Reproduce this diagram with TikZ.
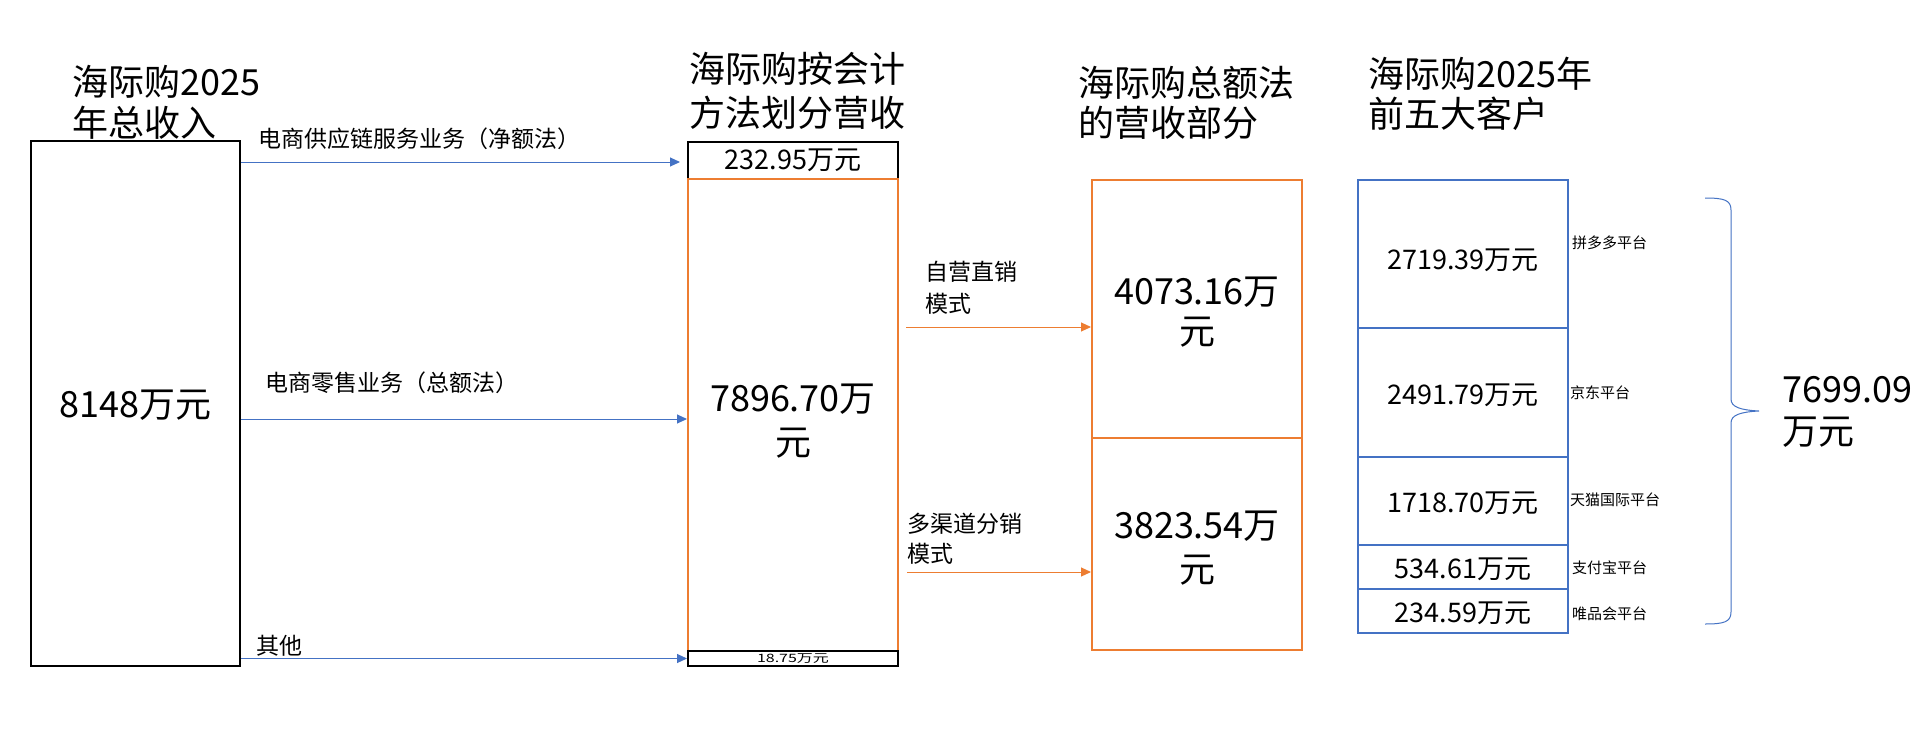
\documentclass[tikz,border=0pt]{standalone}
\usepackage{fontspec}
\setmainfont{Noto Sans CJK SC}
\usetikzlibrary{arrows.meta,calc}
\definecolor{bl}{RGB}{68,114,196}
\definecolor{og}{RGB}{237,125,49}
\tikzset{
  ttl/.style={font=\fontsize{36}{41}\selectfont, align=left, anchor=west, inner sep=0pt},
  bigv/.style={font=\fontsize{36}{44}\selectfont, align=center},
  lbl/.style={font=\fontsize{23}{31}\selectfont, align=left, anchor=west, inner sep=0pt},
  sml/.style={font=\fontsize{15}{18}\selectfont, anchor=west, inner sep=0pt},
  val/.style={font=\fontsize{27}{30}\selectfont},
  bx/.style={draw, inner sep=0pt, minimum width=210pt, line width=2pt},
  barrow/.style={draw=bl, line width=1pt, -{Triangle[length=10pt,width=9pt]}},
  oarrow/.style={draw=og, line width=1pt, -{Triangle[length=10pt,width=9pt]}},
  brc/.style={draw=bl, line width=1pt}
}
\begin{document}
\begin{tikzpicture}[x=1pt,y=-1pt]
\useasboundingbox (0,0) rectangle (1920,739);
\fill[white] (0,0) rectangle (1920,739);

% titles
\node[ttl, font=\fontsize{36}{41}\selectfont] (t1) at (72,102.5) {海际购2025\\年总收入};
\node[ttl, font=\fontsize{36}{44}\selectfont] (t2) at (689,91) {海际购按会计\\方法划分营收};
\node[ttl, font=\fontsize{36}{40}\selectfont] (t3) at (1078,103) {海际购总额法\\的营收部分};
\node[ttl, font=\fontsize{36}{40}\selectfont] (t4) at (1368,93.5) {海际购2025年\\前五大客户};

% left box
\node[bx, draw=black, line width=1.5pt, minimum width=209pt, minimum height=525pt] (L) at (135.5,403.5) {};
\node[bigv] (Lt) at ($(L.center)+(0,2)$) {8148万元};

% middle column
\node[bx, draw=black, minimum height=37pt, val] (M1) at (793,160.5) {232.95万元};
\node[bx, draw=og, minimum height=472pt] (M2) at (793,415) {};
\node[bigv] (M2t) at ($(M2.center)+(0,6)$) {7896.70万\\元};
\node[bx, draw=black, minimum height=15pt] (M3) at (793,658.5) {\scalebox{1}[0.72]{\fontsize{16}{16}\selectfont 18.75万元}};

% third column
\node[bx, draw=og, minimum height=258pt] (T1) at (1197,309) {};
\node[bigv, font=\fontsize{36}{40}\selectfont] (T1t) at ($(T1.center)+(0,3)$) {4073.16万\\元};
\node[bx, draw=og, minimum height=212pt] (T2) at (1197,544) {};
\node[bigv, font=\fontsize{36}{44}\selectfont] (T2t) at ($(T2.center)+(0,4)$) {3823.54万\\元};

% fourth column
\node[bx, draw=bl, minimum height=148pt] (C1) at (1463,254) {};
\node[bx, draw=bl, minimum height=129pt] (C2) at (1463,392.5) {};
\node[bx, draw=bl, minimum height=88pt] (C3) at (1463,501) {};
\node[bx, draw=bl, minimum height=44pt] (C4) at (1463,567) {};
\node[bx, draw=bl, minimum height=44pt] (C5) at (1463,611) {};
\node[val] (C1t) at ($(C1.center)+(0,6)$) {2719.39万元};
\node[val] (C2t) at ($(C2.center)+(0,2.5)$) {2491.79万元};
\node[val] (C3t) at ($(C3.center)+(0,2.5)$) {1718.70万元};
\node[val] (C4t) at ($(C4.center)+(0,2)$) {534.61万元};
\node[val] (C5t) at ($(C5.center)+(0,2)$) {234.59万元};

\node[sml] (p1) at (1572,243) {拼多多平台};
\node[sml] (p2) at (1570,393) {京东平台};
\node[sml] (p3) at (1570,500) {天猫国际平台};
\node[sml] (p4) at (1572,568) {支付宝平台};
\node[sml] (p5) at (1572,614) {唯品会平台};

% blue arrows
\draw[barrow] ($(L.east |- M1.west)+(0,1.5)$) -- ($(M1.west)+(-7,1.5)$);
\draw[barrow] ($(L.east |- M2.west)+(0,4)$) -- ($(M2.west)+(0,4)$);
\draw[barrow] (L.east |- M3.west) -- (M3.west);
\node[lbl] (a1) at (258,139) {电商供应链服务业务（净额法）};
\node[lbl] (a2) at (265,383) {电商零售业务（总额法）};
\node[lbl] (a3) at (256,646) {其他};

% orange arrows
\coordinate (o1) at (906,327);
\coordinate (o2) at (907,572);
\draw[oarrow] (o1) -- (T1.west |- o1);
\draw[oarrow] (o2) -- (T2.west |- o2);
\node[lbl, font=\fontsize{23}{32}\selectfont] (b1) at (925,288) {自营直销\\模式};
\node[lbl, font=\fontsize{23}{30}\selectfont] (b2) at (907,539) {多渠道分销\\模式};

% brace
\coordinate (bt) at (1705,198);
\coordinate (bb) at (1705,624);
\coordinate (btip) at (1759,411);
\draw[brc] (bt) .. controls (1724,198) and (1731,200) .. (1731,210)
  -- (1731,399) .. controls (1731,407) and (1740,410) .. (btip)
  .. controls (1740,412) and (1731,415) .. (1731,423)
  -- (1731,612) .. controls (1731,622) and (1724,624) .. (bb);
\node[ttl, font=\fontsize{36}{42}\selectfont] (tot) at (1782,412) {7699.09\\万元};
\end{tikzpicture}
\end{document}
